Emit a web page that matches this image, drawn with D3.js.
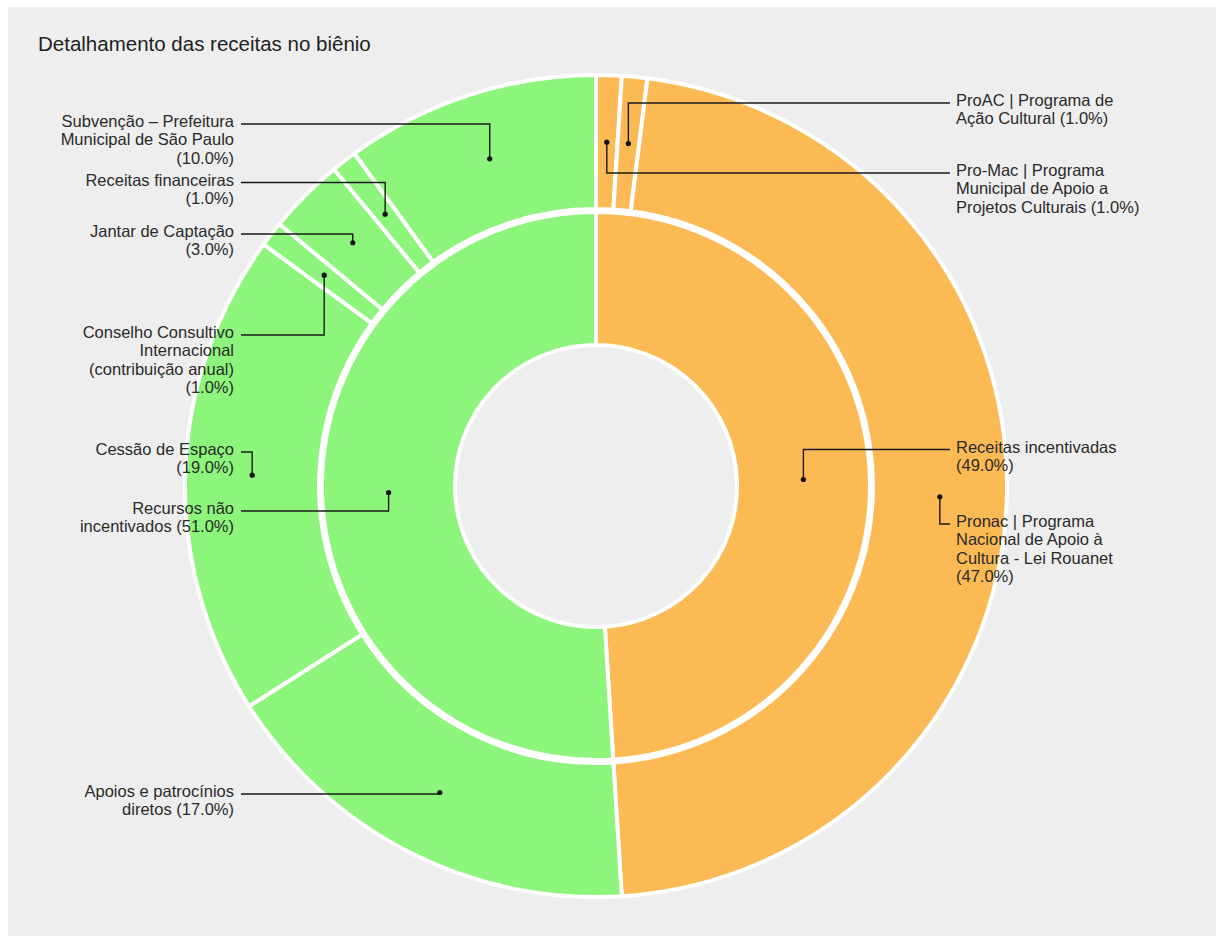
<!DOCTYPE html>
<html lang="pt-BR">
<head>
<meta charset="utf-8">
<title>Detalhamento das receitas no biênio</title>
<script src="https://cdn.jsdelivr.net/npm/d3@7"></script>
<style>
  html, body { margin: 0; padding: 0; background: #ffffff; }
  svg { display: block; font-family: "Liberation Sans", Arial, Helvetica, sans-serif; }
</style>
</head>
<body>
<svg id="chart" width="1216" height="936"></svg>
<script>
// Inner ring: the two funding groups
const innerNames = ["Receitas incentivadas", "Recursos não incentivados"];
const innerValues = [49, 51];

// Outer ring: funding sources, clockwise from the top
const outerNames = [
  "Pro-Mac | Programa Municipal de Apoio a Projetos Culturais",
  "ProAC | Programa de Ação Cultural",
  "Pronac | Programa Nacional de Apoio à Cultura - Lei Rouanet",
  "Apoios e patrocínios diretos",
  "Cessão de Espaço",
  "Conselho Consultivo Internacional (contribuição anual)",
  "Jantar de Captação",
  "Receitas financeiras",
  "Subvenção – Prefeitura Municipal de São Paulo"
];
const outerValues = [1, 1, 47, 17, 19, 1, 3, 1, 10];
// which inner group each source belongs to
const outerGroup = [0, 0, 0, 1, 1, 1, 1, 1, 1];

// Label text, broken into lines; {p} is replaced by the formatted share
const innerLabelLines = [
  ["Receitas incentivadas", "{p}"],
  ["Recursos não", "incentivados {p}"]
];
const outerLabelLines = [
  ["Pro-Mac | Programa", "Municipal de Apoio a", "Projetos Culturais {p}"],
  ["ProAC | Programa de", "Ação Cultural {p}"],
  ["Pronac | Programa", "Nacional de Apoio à", "Cultura - Lei Rouanet", "{p}"],
  ["Apoios e patrocínios", "diretos {p}"],
  ["Cessão de Espaço", "{p}"],
  ["Conselho Consultivo", "Internacional", "(contribuição anual)", "{p}"],
  ["Jantar de Captação", "{p}"],
  ["Receitas financeiras", "{p}"],
  ["Subvenção – Prefeitura", "Municipal de São Paulo", "{p}"]
];

const groupColors = ["#fcba54", "#8df57b"];

// ---- layout ----
const W = 1216, H = 936;
const cx = 596, cy = 486;
const innerR0 = 141, innerR1 = 274;
const outerR0 = 277, outerR1 = 411;
const leftTextX = 234, leftLeaderX = 241;
const rightLeaderX = 950, rightTextX = 956;
const lineH = 18.3;
// vertical position of each leader's horizontal run
const innerLeaderY = [449.5, 511];
const outerLeaderY = [173, 103, 524, 794, 452, 335, 234, 182.5, 124];

const svg = d3.select("#chart");

svg.append("rect")
  .attr("x", 8).attr("y", 7)
  .attr("width", W - 8).attr("height", H - 7)
  .attr("fill", "#eeeeee");

svg.append("text")
  .attr("x", 38).attr("y", 51)
  .attr("font-size", 20.5)
  .attr("fill", "#1e1e1e")
  .text("Detalhamento das receitas no biênio");

const pie = d3.pie().sort(null).value(d => d);
const innerArcs = pie(innerValues);
const outerArcs = pie(outerValues);

const arcInner = d3.arc().innerRadius(innerR0).outerRadius(innerR1);
const arcOuter = d3.arc().innerRadius(outerR0).outerRadius(outerR1);

const g = svg.append("g").attr("transform", `translate(${cx},${cy})`);

g.selectAll("path.inner")
  .data(innerArcs)
  .join("path")
  .attr("class", "inner")
  .attr("d", arcInner)
  .attr("fill", (d, i) => groupColors[i])
  .attr("stroke", "#ffffff")
  .attr("stroke-width", 4);

g.selectAll("path.outer")
  .data(outerArcs)
  .join("path")
  .attr("class", "outer")
  .attr("d", arcOuter)
  .attr("fill", (d, i) => groupColors[outerGroup[i]])
  .attr("stroke", "#ffffff")
  .attr("stroke-width", 4);

const fmt = v => `(${v.toFixed(1)}%)`;

function drawLabel(arcGen, arcDatum, lines, leaderY) {
  const [px, py] = arcGen.centroid(arcDatum);
  const dotX = cx + px, dotY = cy + py;
  const right = dotX > cx;
  const startX = right ? rightLeaderX : leftLeaderX;

  svg.append("path")
    .attr("d", `M${startX},${leaderY}H${dotX}V${dotY}`)
    .attr("fill", "none")
    .attr("stroke", "#1a1a1a")
    .attr("stroke-width", 1.4);

  svg.append("circle")
    .attr("cx", dotX).attr("cy", dotY).attr("r", 2.6)
    .attr("fill", "#111111");

  const text = svg.append("text")
    .attr("font-size", 16.5)
    .attr("fill", "#2a2a2a")
    .attr("text-anchor", right ? "start" : "end");
  lines.forEach((ln, k) => {
    text.append("tspan")
      .attr("x", right ? rightTextX : leftTextX)
      .attr("y", leaderY + 3 + k * lineH)
      .text(ln.replace("{p}", fmt(arcDatum.data)));
  });
}

innerArcs.forEach((d, i) => drawLabel(arcInner, d, innerLabelLines[i], innerLeaderY[i]));
outerArcs.forEach((d, i) => drawLabel(arcOuter, d, outerLabelLines[i], outerLeaderY[i]));
</script>
</body>
</html>
